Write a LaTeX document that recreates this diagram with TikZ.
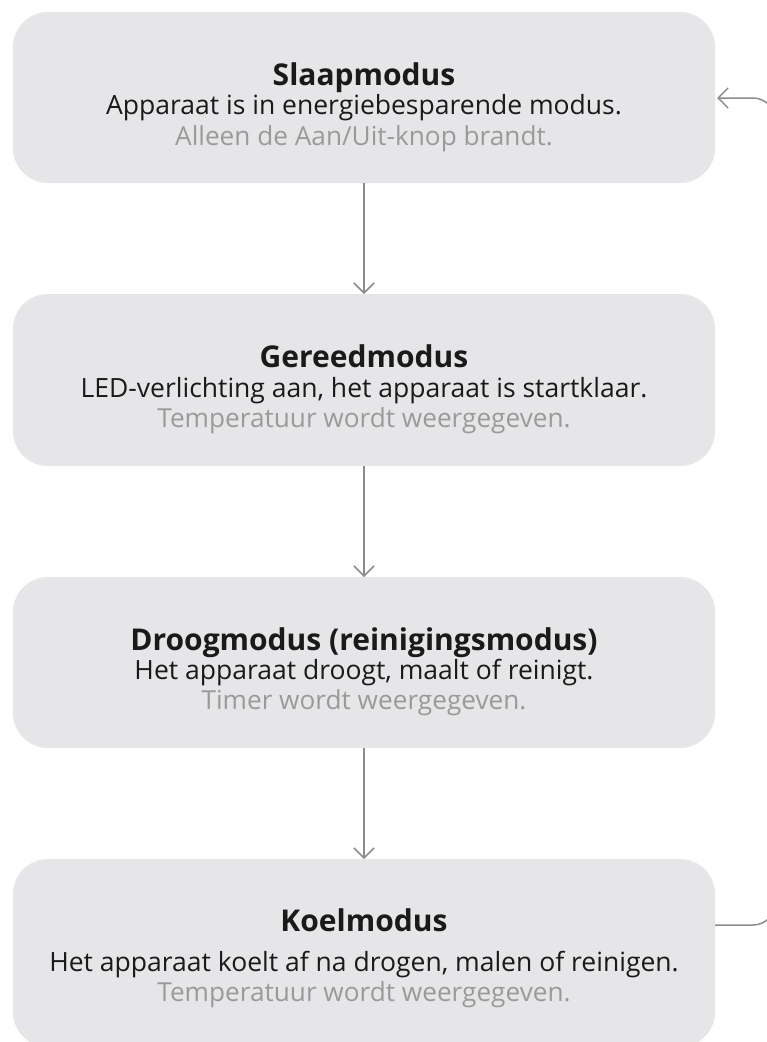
\documentclass[tikz,border=0pt]{standalone}
\usepackage{fontspec}
\setmainfont{Open Sans}
\usetikzlibrary{arrows.meta}
\definecolor{boxfill}{HTML}{E6E6E8}
\definecolor{linegray}{HTML}{8C8C8C}
\definecolor{subgray}{HTML}{9A9A9A}
\definecolor{maintext}{HTML}{1A1A1A}
\tikzset{
  statebox/.style={fill=boxfill, rounded corners=35pt},
  ttl/.style={font=\fontsize{30}{34}\selectfont\bfseries, text=maintext, anchor=base},
  desc/.style={font=\fontsize{26.5}{30}\selectfont, text=maintext, anchor=base},
  note/.style={font=\fontsize{26.2}{30}\selectfont, text=subgray, anchor=base},
  flow/.style={draw=linegray, line width=1.5pt, -{Straight Barb[length=10pt,width=20pt,line width=1.5pt]}}
}
\begin{document}
\begin{tikzpicture}[x=1pt,y=-1pt]
\useasboundingbox (0,0) rectangle (767,1042);
\fill[statebox] (13,12) rectangle (715,183);
\fill[statebox] (13,294) rectangle (715,466);
\fill[statebox] (13,577) rectangle (715,748);
\fill[statebox] (13,859) rectangle (715,1047);
\coordinate (b1t) at (364,183);
\coordinate (b2b) at (364,294);
\coordinate (b2t) at (364,466);
\coordinate (b3b) at (364,577);
\coordinate (b3t) at (364,748);
\coordinate (b4b) at (364,859);
\coordinate (b4r) at (715,925);
\coordinate (b1r) at (717,98);
\node[ttl] (t1) at (364,85) {Slaapmodus};
\node[desc] (d1) at (364,114) {Apparaat is in energiebesparende modus.};
\node[note] (n1) at (364,145) {Alleen de Aan/Uit-knop brandt.};
\node[ttl] (t2) at (364,367) {Gereedmodus};
\node[desc] (d2) at (364,397) {LED-verlichting aan, het apparaat is startklaar.};
\node[note] (n2) at (364,427) {Temperatuur wordt weergegeven.};
\node[ttl] (t3) at (364,650) {Droogmodus (reinigingsmodus)};
\node[desc] (d3) at (364,679) {Het apparaat droogt, maalt of reinigt.};
\node[note] (n3) at (364,709) {Timer wordt weergegeven.};
\node[ttl] (t4) at (364,931) {Koelmodus};
\node[desc] (d4) at (364,971) {Het apparaat koelt af na drogen, malen of reinigen.};
\node[note] (n4) at (364,1001) {Temperatuur wordt weergegeven.};
\draw[flow] (b1t) -- (b2b);
\draw[flow] (b2t) -- (b3b);
\draw[flow] (b3t) -- (b4b);
\draw[flow, rounded corners=22pt] (b4r) -- (775,925) -- (775,98) -- (b1r);
\end{tikzpicture}
\end{document}
